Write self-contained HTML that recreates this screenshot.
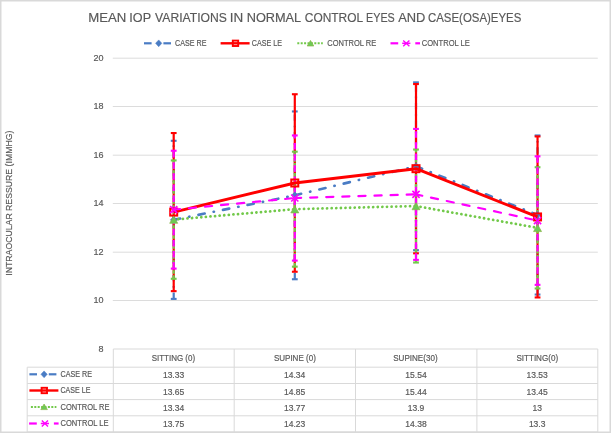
<!DOCTYPE html><html><head><meta charset="utf-8"><title>Mean IOP variations chart</title><style>html,body{margin:0;padding:0;background:#fff;overflow:hidden;}svg{display:block;}</style></head><body>
<svg width="611" height="433" viewBox="0 0 611 433" font-family="'Liberation Sans', Arial, sans-serif"><style>text{stroke:#595959;stroke-width:0.18px;}</style>
<rect x="0" y="0" width="611" height="433" fill="#fff"/>
<rect x="0.75" y="0.75" width="609.5" height="431.5" fill="none" stroke="#D9D9D9" stroke-width="1.5"/>
<line x1="112.8" y1="58.20" x2="597.8" y2="58.20" stroke="#DCDCDC" stroke-width="1"/>
<line x1="112.8" y1="106.50" x2="597.8" y2="106.50" stroke="#DCDCDC" stroke-width="1"/>
<line x1="112.8" y1="155.20" x2="597.8" y2="155.20" stroke="#DCDCDC" stroke-width="1"/>
<line x1="112.8" y1="203.50" x2="597.8" y2="203.50" stroke="#DCDCDC" stroke-width="1"/>
<line x1="112.8" y1="252.20" x2="597.8" y2="252.20" stroke="#DCDCDC" stroke-width="1"/>
<line x1="112.8" y1="300.50" x2="597.8" y2="300.50" stroke="#DCDCDC" stroke-width="1"/>
<text x="103.4" y="351.95" font-size="9.0" fill="#595959" text-anchor="end">8</text>
<text x="103.4" y="303.45" font-size="9.0" fill="#595959" text-anchor="end">10</text>
<text x="103.4" y="254.95" font-size="9.0" fill="#595959" text-anchor="end">12</text>
<text x="103.4" y="206.45" font-size="9.0" fill="#595959" text-anchor="end">14</text>
<text x="103.4" y="157.95" font-size="9.0" fill="#595959" text-anchor="end">16</text>
<text x="103.4" y="109.45" font-size="9.0" fill="#595959" text-anchor="end">18</text>
<text x="103.4" y="60.95" font-size="9.0" fill="#595959" text-anchor="end">20</text>
<text x="88.20" y="22.2" font-size="13.5" fill="#595959" textLength="38.09" lengthAdjust="spacingAndGlyphs">MEAN</text>
<text x="129.33" y="22.2" font-size="13.5" fill="#595959" textLength="21.75" lengthAdjust="spacingAndGlyphs">IOP</text>
<text x="155.11" y="22.2" font-size="13.5" fill="#595959" textLength="71.73" lengthAdjust="spacingAndGlyphs">VARIATIONS</text>
<text x="229.76" y="22.2" font-size="13.5" fill="#595959" textLength="13.43" lengthAdjust="spacingAndGlyphs">IN</text>
<text x="246.68" y="22.2" font-size="13.5" fill="#595959" textLength="54.53" lengthAdjust="spacingAndGlyphs">NORMAL</text>
<text x="304.82" y="22.2" font-size="13.5" fill="#595959" textLength="58.32" lengthAdjust="spacingAndGlyphs">CONTROL</text>
<text x="366.10" y="22.2" font-size="13.5" fill="#595959" textLength="28.70" lengthAdjust="spacingAndGlyphs">EYES</text>
<text x="398.13" y="22.2" font-size="13.5" fill="#595959" textLength="27.21" lengthAdjust="spacingAndGlyphs">AND</text>
<text x="428.02" y="22.2" font-size="13.5" fill="#595959" textLength="93.25" lengthAdjust="spacingAndGlyphs">CASE(OSA)EYES</text>
<text x="175.05" y="45.8" font-size="8.5" fill="#595959" textLength="31.37" lengthAdjust="spacingAndGlyphs">CASE RE</text>
<text x="251.72" y="45.8" font-size="8.5" fill="#595959" textLength="30.18" lengthAdjust="spacingAndGlyphs">CASE LE</text>
<text x="327.33" y="45.8" font-size="8.5" fill="#595959" textLength="48.97" lengthAdjust="spacingAndGlyphs">CONTROL RE</text>
<text x="421.74" y="45.8" font-size="8.5" fill="#595959" textLength="48.12" lengthAdjust="spacingAndGlyphs">CONTROL LE</text>
<text x="151.67" y="360.8" font-size="8.5" fill="#595959" textLength="43.42" lengthAdjust="spacingAndGlyphs">SITTING (0)</text>
<text x="273.88" y="360.8" font-size="8.5" fill="#595959" textLength="41.94" lengthAdjust="spacingAndGlyphs">SUPINE (0)</text>
<text x="393.21" y="360.8" font-size="8.5" fill="#595959" textLength="44.39" lengthAdjust="spacingAndGlyphs">SUPINE(30)</text>
<text x="516.38" y="360.8" font-size="8.5" fill="#595959" textLength="41.74" lengthAdjust="spacingAndGlyphs">SITTING(0)</text>
<text x="60.54" y="376.8" font-size="8.5" fill="#595959" textLength="31.57" lengthAdjust="spacingAndGlyphs">CASE RE</text>
<text x="60.53" y="393.0" font-size="8.5" fill="#595959" textLength="29.87" lengthAdjust="spacingAndGlyphs">CASE LE</text>
<text x="60.53" y="409.8" font-size="8.5" fill="#595959" textLength="48.97" lengthAdjust="spacingAndGlyphs">CONTROL RE</text>
<text x="60.54" y="425.6" font-size="8.5" fill="#595959" textLength="48.02" lengthAdjust="spacingAndGlyphs">CONTROL LE</text>
<text transform="translate(11.9 275.0) rotate(-90)" x="-0.73" y="0" font-size="9.7" fill="#595959" textLength="145.07" lengthAdjust="spacingAndGlyphs">INTRAOCULAR RESSURE (IMMHG)</text>
<g stroke="#D9D9D9" stroke-width="1"><line x1="113.3" y1="349.0" x2="597.8" y2="349.0"/><line x1="27.2" y1="367.2" x2="597.8" y2="367.2"/><line x1="27.2" y1="383.5" x2="597.8" y2="383.5"/><line x1="27.2" y1="399.6" x2="597.8" y2="399.6"/><line x1="27.2" y1="415.8" x2="597.8" y2="415.8"/><line x1="27.2" y1="432.0" x2="597.8" y2="432.0"/><line x1="27.2" y1="367.2" x2="27.2" y2="432.0"/><line x1="113.3" y1="349.0" x2="113.3" y2="432.0"/><line x1="234.2" y1="349.0" x2="234.2" y2="432.0"/><line x1="355.5" y1="349.0" x2="355.5" y2="432.0"/><line x1="476.9" y1="349.0" x2="476.9" y2="432.0"/><line x1="597.8" y1="349.0" x2="597.8" y2="432.0"/></g>
<text x="173.55" y="377.8" font-size="8.5" fill="#595959" text-anchor="middle">13.33</text>
<text x="294.65" y="377.8" font-size="8.5" fill="#595959" text-anchor="middle">14.34</text>
<text x="416.00" y="377.8" font-size="8.5" fill="#595959" text-anchor="middle">15.54</text>
<text x="537.15" y="377.8" font-size="8.5" fill="#595959" text-anchor="middle">13.53</text>
<text x="173.55" y="394.6" font-size="8.5" fill="#595959" text-anchor="middle">13.65</text>
<text x="294.65" y="394.6" font-size="8.5" fill="#595959" text-anchor="middle">14.85</text>
<text x="416.00" y="394.6" font-size="8.5" fill="#595959" text-anchor="middle">15.44</text>
<text x="537.15" y="394.6" font-size="8.5" fill="#595959" text-anchor="middle">13.45</text>
<text x="173.55" y="410.6" font-size="8.5" fill="#595959" text-anchor="middle">13.34</text>
<text x="294.65" y="410.6" font-size="8.5" fill="#595959" text-anchor="middle">13.77</text>
<text x="416.00" y="410.6" font-size="8.5" fill="#595959" text-anchor="middle">13.9</text>
<text x="537.15" y="410.6" font-size="8.5" fill="#595959" text-anchor="middle">13</text>
<text x="173.55" y="426.6" font-size="8.5" fill="#595959" text-anchor="middle">13.75</text>
<text x="294.65" y="426.6" font-size="8.5" fill="#595959" text-anchor="middle">14.23</text>
<text x="416.00" y="426.6" font-size="8.5" fill="#595959" text-anchor="middle">14.38</text>
<text x="537.15" y="426.6" font-size="8.5" fill="#595959" text-anchor="middle">13.3</text>
<line x1="144.00" y1="43.3" x2="151.60" y2="43.3" stroke="#4A7CC4" stroke-width="2.2"/><line x1="163.40" y1="43.3" x2="171.00" y2="43.3" stroke="#4A7CC4" stroke-width="2.2"/><path d="M158.70 39.90 L161.85 43.30 L158.70 46.70 L155.55 43.30 Z" fill="#4A7CC4" stroke="#4A7CC4" stroke-width="0.5" stroke-linejoin="round"/>
<line x1="220.60" y1="43.3" x2="249.60" y2="43.3" stroke="#FF0000" stroke-width="2.4"/><rect x="232.80" y="40.60" width="5.40" height="5.40" fill="none" stroke="#FF0000" stroke-width="1.9"/>
<line x1="297.30" y1="43.3" x2="322.80" y2="43.3" stroke="#72C94A" stroke-width="2.0" stroke-dasharray="2 1.4"/><path d="M310.50 40.40 L313.80 46.00 L307.20 46.00 Z" fill="#6CCB55" stroke="#8DB54A" stroke-width="0.7"/>
<line x1="390.50" y1="43.3" x2="398.20" y2="43.3" stroke="#FF00FF" stroke-width="2.2"/><line x1="402.20" y1="43.3" x2="410.40" y2="43.3" stroke="#FF00FF" stroke-width="1.5"/><line x1="415.30" y1="43.3" x2="420.00" y2="43.3" stroke="#FF00FF" stroke-width="2.2"/><path d="M403.20 40.40 L409.40 46.20 M403.20 46.20 L409.40 40.40" stroke="#FF00FF" stroke-width="1.35" fill="none"/>
<line x1="29.40" y1="374.3" x2="37.00" y2="374.3" stroke="#4A7CC4" stroke-width="2.2"/><line x1="48.80" y1="374.3" x2="56.40" y2="374.3" stroke="#4A7CC4" stroke-width="2.2"/><path d="M44.10 370.90 L47.25 374.30 L44.10 377.70 L40.95 374.30 Z" fill="#4A7CC4" stroke="#4A7CC4" stroke-width="0.5" stroke-linejoin="round"/>
<line x1="29.40" y1="390.5" x2="58.40" y2="390.5" stroke="#FF0000" stroke-width="2.4"/><rect x="41.60" y="387.80" width="5.40" height="5.40" fill="none" stroke="#FF0000" stroke-width="1.9"/>
<line x1="30.90" y1="406.9" x2="56.40" y2="406.9" stroke="#72C94A" stroke-width="2.0" stroke-dasharray="2 1.4"/><path d="M44.10 404.00 L47.40 409.60 L40.80 409.60 Z" fill="#6CCB55" stroke="#8DB54A" stroke-width="0.7"/>
<line x1="29.10" y1="423.5" x2="36.80" y2="423.5" stroke="#FF00FF" stroke-width="2.2"/><line x1="40.80" y1="423.5" x2="49.00" y2="423.5" stroke="#FF00FF" stroke-width="1.5"/><line x1="53.90" y1="423.5" x2="58.60" y2="423.5" stroke="#FF00FF" stroke-width="2.2"/><path d="M41.80 420.60 L48.00 426.40 M41.80 426.40 L48.00 420.60" stroke="#FF00FF" stroke-width="1.35" fill="none"/>
<line x1="173.70" y1="298.90" x2="173.70" y2="140.79" stroke="#4A7CC4" stroke-width="2.2" stroke-dasharray="6.4 4.8 1.6 4.8"/><line x1="170.80" y1="140.79" x2="176.60" y2="140.79" stroke="#4A7CC4" stroke-width="2.1"/><line x1="170.80" y1="298.90" x2="176.60" y2="298.90" stroke="#4A7CC4" stroke-width="2.1"/><line x1="294.80" y1="279.26" x2="294.80" y2="111.45" stroke="#4A7CC4" stroke-width="2.2" stroke-dasharray="6.4 4.8 1.6 4.8"/><line x1="291.90" y1="111.45" x2="297.70" y2="111.45" stroke="#4A7CC4" stroke-width="2.1"/><line x1="291.90" y1="279.26" x2="297.70" y2="279.26" stroke="#4A7CC4" stroke-width="2.1"/><line x1="416.00" y1="250.16" x2="416.00" y2="82.35" stroke="#4A7CC4" stroke-width="2.2" stroke-dasharray="6.4 4.8 1.6 4.8"/><line x1="413.10" y1="82.35" x2="418.90" y2="82.35" stroke="#4A7CC4" stroke-width="2.1"/><line x1="413.10" y1="250.16" x2="418.90" y2="250.16" stroke="#4A7CC4" stroke-width="2.1"/><line x1="537.55" y1="294.54" x2="537.55" y2="135.46" stroke="#4A7CC4" stroke-width="2.2" stroke-dasharray="6.4 4.8 1.6 4.8"/><line x1="534.65" y1="135.46" x2="540.45" y2="135.46" stroke="#4A7CC4" stroke-width="2.1"/><line x1="534.65" y1="294.54" x2="540.45" y2="294.54" stroke="#4A7CC4" stroke-width="2.1"/>
<line x1="173.70" y1="291.14" x2="173.70" y2="133.03" stroke="#FF0000" stroke-width="2.2"/><line x1="170.80" y1="133.03" x2="176.60" y2="133.03" stroke="#FF0000" stroke-width="2.1"/><line x1="170.80" y1="291.14" x2="176.60" y2="291.14" stroke="#FF0000" stroke-width="2.1"/><line x1="294.80" y1="271.74" x2="294.80" y2="94.23" stroke="#FF0000" stroke-width="2.2"/><line x1="291.90" y1="94.23" x2="297.70" y2="94.23" stroke="#FF0000" stroke-width="2.1"/><line x1="291.90" y1="271.74" x2="297.70" y2="271.74" stroke="#FF0000" stroke-width="2.1"/><line x1="416.00" y1="253.31" x2="416.00" y2="84.05" stroke="#FF0000" stroke-width="2.2"/><line x1="413.10" y1="84.05" x2="418.90" y2="84.05" stroke="#FF0000" stroke-width="2.1"/><line x1="413.10" y1="253.31" x2="418.90" y2="253.31" stroke="#FF0000" stroke-width="2.1"/><line x1="537.55" y1="297.45" x2="537.55" y2="136.43" stroke="#FF0000" stroke-width="2.2"/><line x1="534.65" y1="136.43" x2="540.45" y2="136.43" stroke="#FF0000" stroke-width="2.1"/><line x1="534.65" y1="297.45" x2="540.45" y2="297.45" stroke="#FF0000" stroke-width="2.1"/>
<line x1="173.70" y1="278.78" x2="173.70" y2="160.44" stroke="#72C94A" stroke-width="2.2" stroke-dasharray="3.6 1.4"/><line x1="170.80" y1="160.44" x2="176.60" y2="160.44" stroke="#72C94A" stroke-width="2.1"/><line x1="170.80" y1="278.78" x2="176.60" y2="278.78" stroke="#72C94A" stroke-width="2.1"/><line x1="294.80" y1="266.65" x2="294.80" y2="151.71" stroke="#72C94A" stroke-width="2.2" stroke-dasharray="3.6 1.4"/><line x1="291.90" y1="151.71" x2="297.70" y2="151.71" stroke="#72C94A" stroke-width="2.1"/><line x1="291.90" y1="266.65" x2="297.70" y2="266.65" stroke="#72C94A" stroke-width="2.1"/><line x1="416.00" y1="262.53" x2="416.00" y2="149.52" stroke="#72C94A" stroke-width="2.2" stroke-dasharray="3.6 1.4"/><line x1="413.10" y1="149.52" x2="418.90" y2="149.52" stroke="#72C94A" stroke-width="2.1"/><line x1="413.10" y1="262.53" x2="418.90" y2="262.53" stroke="#72C94A" stroke-width="2.1"/><line x1="537.55" y1="288.48" x2="537.55" y2="167.23" stroke="#72C94A" stroke-width="2.2" stroke-dasharray="3.6 1.4"/><line x1="534.65" y1="167.23" x2="540.45" y2="167.23" stroke="#72C94A" stroke-width="2.1"/><line x1="534.65" y1="288.48" x2="540.45" y2="288.48" stroke="#72C94A" stroke-width="2.1"/>
<line x1="173.70" y1="268.59" x2="173.70" y2="150.74" stroke="#FF00FF" stroke-width="2.2" stroke-dasharray="6.5 4.6"/><line x1="170.80" y1="150.74" x2="176.60" y2="150.74" stroke="#FF00FF" stroke-width="2.1"/><line x1="170.80" y1="268.59" x2="176.60" y2="268.59" stroke="#FF00FF" stroke-width="2.1"/><line x1="294.80" y1="260.59" x2="294.80" y2="135.46" stroke="#FF00FF" stroke-width="2.2" stroke-dasharray="6.5 4.6"/><line x1="291.90" y1="135.46" x2="297.70" y2="135.46" stroke="#FF00FF" stroke-width="2.1"/><line x1="291.90" y1="260.59" x2="297.70" y2="260.59" stroke="#FF00FF" stroke-width="2.1"/><line x1="416.00" y1="259.86" x2="416.00" y2="128.91" stroke="#FF00FF" stroke-width="2.2" stroke-dasharray="6.5 4.6"/><line x1="413.10" y1="128.91" x2="418.90" y2="128.91" stroke="#FF00FF" stroke-width="2.1"/><line x1="413.10" y1="259.86" x2="418.90" y2="259.86" stroke="#FF00FF" stroke-width="2.1"/><line x1="537.55" y1="284.84" x2="537.55" y2="156.31" stroke="#FF00FF" stroke-width="2.2" stroke-dasharray="6.5 4.6"/><line x1="534.65" y1="156.31" x2="540.45" y2="156.31" stroke="#FF00FF" stroke-width="2.1"/><line x1="534.65" y1="284.84" x2="540.45" y2="284.84" stroke="#FF00FF" stroke-width="2.1"/>
<g fill="none" stroke="#4A7CC4" stroke-width="2.6" stroke-dasharray="6.4 9.1 0.4 9.15" stroke-dashoffset="-0.15" stroke-linecap="round"><line x1="173.70" y1="219.85" x2="294.80" y2="195.36"/><line x1="294.80" y1="195.36" x2="416.00" y2="166.26"/><line x1="416.00" y1="166.26" x2="537.55" y2="215.00"/></g>
<path d="M173.70 216.25 L177.00 219.85 L173.70 223.45 L170.40 219.85 Z" fill="#4A7CC4" stroke="#4A7CC4" stroke-width="0.5" stroke-linejoin="round"/><path d="M294.80 191.76 L298.10 195.36 L294.80 198.96 L291.50 195.36 Z" fill="#4A7CC4" stroke="#4A7CC4" stroke-width="0.5" stroke-linejoin="round"/><path d="M416.00 162.66 L419.30 166.26 L416.00 169.86 L412.70 166.26 Z" fill="#4A7CC4" stroke="#4A7CC4" stroke-width="0.5" stroke-linejoin="round"/><path d="M537.55 211.40 L540.85 215.00 L537.55 218.60 L534.25 215.00 Z" fill="#4A7CC4" stroke="#4A7CC4" stroke-width="0.5" stroke-linejoin="round"/>
<polyline points="173.70,212.09 294.80,182.99 416.00,168.68 537.55,216.94" fill="none" stroke="#FF0000" stroke-width="3.0" stroke-linejoin="round"/>
<rect x="170.20" y="208.59" width="7.00" height="7.00" fill="none" stroke="#FF0000" stroke-width="2.0"/><rect x="291.30" y="179.49" width="7.00" height="7.00" fill="none" stroke="#FF0000" stroke-width="2.0"/><rect x="412.50" y="165.18" width="7.00" height="7.00" fill="none" stroke="#FF0000" stroke-width="2.0"/><rect x="534.05" y="213.44" width="7.00" height="7.00" fill="none" stroke="#FF0000" stroke-width="2.0"/>
<g fill="none" stroke="#72C94A" stroke-width="2.8" stroke-dasharray="0.01 4.6" stroke-dashoffset="0" stroke-linecap="round"><line x1="173.70" y1="219.61" x2="294.80" y2="209.18"/><line x1="294.80" y1="209.18" x2="416.00" y2="206.03"/><line x1="416.00" y1="206.03" x2="537.55" y2="227.85"/></g>
<path d="M173.70 216.21 L177.70 223.31 L169.70 223.31 Z" fill="#6CCB55" stroke="#8DB54A" stroke-width="0.7"/><path d="M294.80 205.78 L298.80 212.88 L290.80 212.88 Z" fill="#6CCB55" stroke="#8DB54A" stroke-width="0.7"/><path d="M416.00 202.62 L420.00 209.72 L412.00 209.72 Z" fill="#6CCB55" stroke="#8DB54A" stroke-width="0.7"/><path d="M537.55 224.45 L541.55 231.55 L533.55 231.55 Z" fill="#6CCB55" stroke="#8DB54A" stroke-width="0.7"/>
<g fill="none" stroke="#FF00FF" stroke-width="2.15" stroke-dasharray="7.2 8.9" stroke-dashoffset="0.8" stroke-linecap="round"><line x1="173.70" y1="209.66" x2="294.80" y2="198.02"/><line x1="294.80" y1="198.02" x2="416.00" y2="194.38"/><line x1="416.00" y1="194.38" x2="537.55" y2="220.58"/></g>
<path d="M170.10 206.16 L177.30 213.16 M170.10 213.16 L177.30 206.16" stroke="#FF00FF" stroke-width="1.6" fill="none"/><path d="M291.20 194.52 L298.40 201.52 M291.20 201.52 L298.40 194.52" stroke="#FF00FF" stroke-width="1.6" fill="none"/><path d="M412.40 190.88 L419.60 197.88 M412.40 197.88 L419.60 190.88" stroke="#FF00FF" stroke-width="1.6" fill="none"/><path d="M533.95 217.08 L541.15 224.08 M533.95 224.08 L541.15 217.08" stroke="#FF00FF" stroke-width="1.6" fill="none"/>
</svg></body></html>
